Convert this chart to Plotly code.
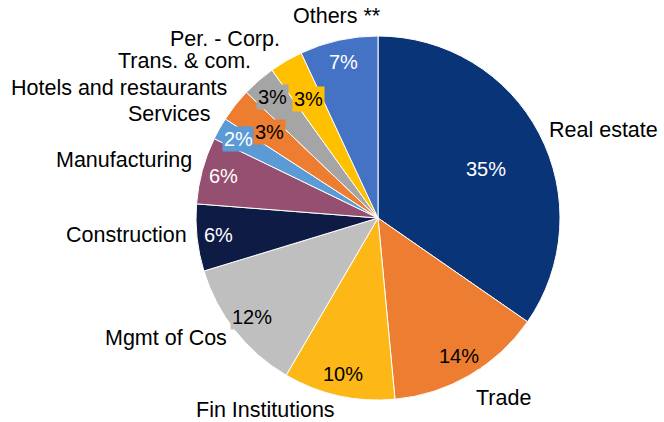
import math
import plotly.graph_objects as go

sectors = ["Real estate", "Trade", "Fin Institutions", "Mgmt of Cos", "Construction",
           "Manufacturing", "Services", "Hotels and restaurants", "Trans. & com.",
           "Per. - Corp.", "Others **"]
shares = [35, 14, 10, 12, 6, 6, 2, 3, 3, 3, 7]
colors = ["#0A3478", "#ED7D31", "#FDB716", "#BFBFBF", "#0E1B45", "#944F71",
          "#5B9BD5", "#ED7D31", "#A5A5A5", "#FFC000", "#4472C4"]
pct_font_colors = ["white", "black", "black", "black", "white", "white",
                   "white", "black", "black", "black", "white"]

W, H = 664, 422
cx, cy, R = 378, 218, 182
FONT = "Arial, Liberation Sans, sans-serif"


def to_paper(px, py):
    return px / W, 1 - py / H


fig = go.Figure()
fig.add_trace(go.Pie(
    labels=sectors, values=shares, sort=False, direction="clockwise", rotation=0,
    marker=dict(colors=colors, line=dict(color="white", width=1)),
    textinfo="none", hoverinfo="label+percent", showlegend=False,
    domain=dict(x=[(cx - R) / W, (cx + R) / W], y=[1 - (cy + R) / H, 1 - (cy - R) / H]),
))

# place percent and category labels from the slice angles
total = sum(shares)
cum = 0
small_idx = 0
for name, v, col, fc in zip(sectors, shares, colors, pct_font_colors):
    mid = (cum + v / 2) / total * 2 * math.pi
    cum += v
    s, c = math.sin(mid), math.cos(mid)

    if v > 25:
        r_in = 0.67
    elif v < 4:
        r_in = 0.88 if small_idx % 2 == 0 else 0.76
        small_idx += 1
    else:
        r_in = 0.88
    x, y = to_paper(cx + R * r_in * s, cy - R * r_in * c + (8 if v > 25 else 0))
    fig.add_annotation(x=x, y=y, xref="paper", yref="paper", xanchor="center", yanchor="middle",
                       text=f"{v}%", showarrow=False, bgcolor=col, borderpad=1,
                       font=dict(family=FONT, size=20, color=fc))

    # category names just outside the rim (slightly stretched vertically)
    shift = 6 if s > 0 else -5
    x, y = to_paper(cx + R * 1.045 * s, cy - R * 1.11 * c + shift)
    if c > 0.9:
        xa = "center"
    else:
        xa = "left" if s > 0 else "right"
    fig.add_annotation(x=x, y=y, xref="paper", yref="paper",
                       text=name, showarrow=False, xanchor=xa, yanchor="middle",
                       font=dict(family=FONT, size=21.5, color="black"))

fig.update_layout(
    width=W, height=H,
    margin=dict(l=0, r=0, t=0, b=0),
    paper_bgcolor="white", plot_bgcolor="white",
)

fig.write_html("out.html", config={"displayModeBar": False},
               post_script="document.body.style.margin='0';")
